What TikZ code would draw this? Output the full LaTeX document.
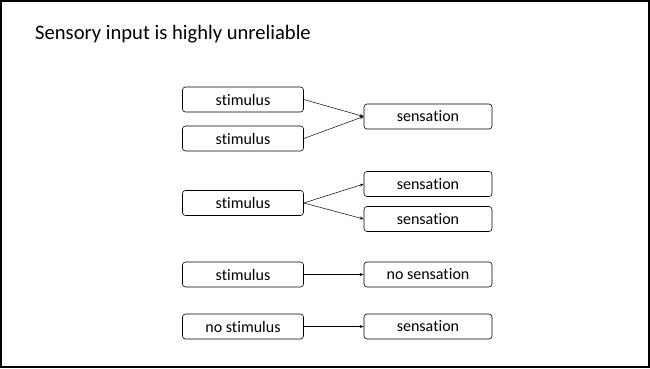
\documentclass[tikz,border=0pt]{standalone}
\usepackage{fontspec}
\setmainfont{Carlito}[Ligatures=NoCommon]
\usetikzlibrary{arrows.meta}
\begin{document}
\begin{tikzpicture}[x=1pt,y=-1pt,
  box/.style={draw, rounded corners=3pt, minimum width=121pt, minimum height=25pt, inner sep=0pt, font=\fontsize{16}{18}\selectfont, line width=0.6pt},
  conn/.style={-{Stealth[length=4pt,width=3pt]}, line width=0.5pt}]
\useasboundingbox (0,0) rectangle (650,368);
\draw[line width=2pt] (1,1) rectangle (649,367);
\node[anchor=base west, inner sep=0pt, font=\fontsize{20.6}{23}\selectfont] (title) at (35,39) {Sensory input is highly unreliable};
\node[box] (s1) at (243,99.5) {stimulus};
\node[box] (s2) at (243,138.5) {stimulus};
\node[box, minimum width=128pt] (r1) at (428,116.5) {sensation};
\node[box] (s3) at (243,203) {stimulus};
\node[box, minimum width=128pt] (r2) at (428,184) {sensation};
\node[box, minimum width=128pt] (r3) at (428,219) {sensation};
\node[box] (s4) at (243,274.5) {stimulus};
\node[box, minimum width=128pt] (r4) at (428,274.5) {no sensation};
\node[box] (s5) at (243,326.5) {no stimulus};
\node[box, minimum width=128pt] (r5) at (428,326.5) {sensation};
\draw[conn] (s1.east) -- (r1.west);
\draw[conn] (s2.east) -- (r1.west);
\draw[conn] (s3.east) -- (r2.west);
\draw[conn] (s3.east) -- (r3.west);
\draw[conn] (s4.east) -- (r4.west);
\draw[conn] (s5.east) -- (r5.west);
\end{tikzpicture}
\end{document}
